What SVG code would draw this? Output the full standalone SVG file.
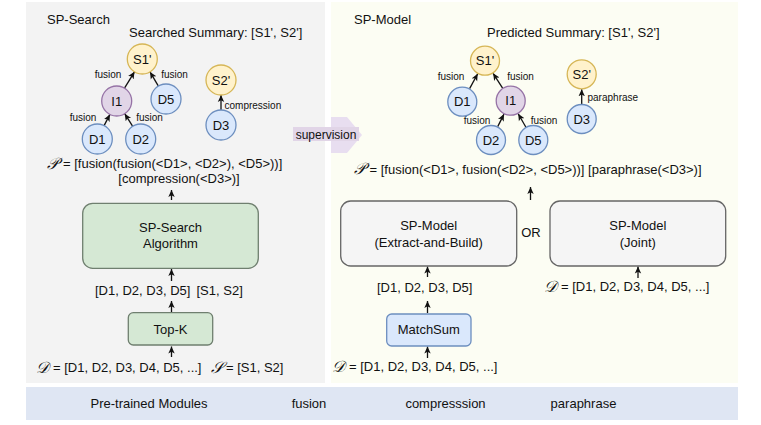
<svg xmlns="http://www.w3.org/2000/svg" width="761" height="425" viewBox="0 0 761 425">
<style>
text{font-family:"Liberation Sans",Arial,sans-serif;fill:#111;}
.t13{font-size:13px;}
.lbl{font-size:10px;}
.mid{text-anchor:middle;}
.yel{fill:#fff2cc;stroke:#d6b656;stroke-width:1.3;}
.pur{fill:#e1d5e7;stroke:#9673a6;stroke-width:1.3;}
.blu{fill:#dae8fc;stroke:#6c8ebf;stroke-width:1.3;}
.edge{stroke:#111;stroke-width:1.3;fill:none;marker-end:url(#ah);}
.scr{font-family:"DejaVu Serif","DejaVu Sans",serif;font-style:italic;font-size:16px;}
</style>
<defs>
<marker id="ah" viewBox="0 0 8 8" refX="7" refY="4" markerWidth="8" markerHeight="8" markerUnits="userSpaceOnUse" orient="auto">
<path d="M0,0.8 L7,4 L0,7.2 L1.8,4 Z" fill="#111"/>
</marker>
</defs>
<rect width="761" height="425" fill="#ffffff"/>
<!-- panels -->
<g id="panel-search"><rect x="26" y="2" width="299" height="381" fill="#f3f3f3"/></g>
<g id="panel-model"><rect x="331" y="2" width="407" height="381" fill="#fcfdf3"/></g>
<g id="bar"><rect x="26" y="387" width="712" height="33" fill="#dfe6f3"/>
<text class="t13 mid" x="149" y="408">Pre-trained Modules</text>
<text class="t13 mid" x="309" y="408">fusion</text>
<text class="t13 mid" x="445.5" y="408">compresssion</text>
<text class="t13 mid" x="583.5" y="408">paraphrase</text>
</g>
<!-- supervision arrow -->
<g id="supervision">
<path d="M331,117 L347,117 L362,135 L347,153 L331,153 Z" fill="#e8def0"/>
<rect x="293" y="127" width="66" height="14" fill="#e1d5e7"/>
<text x="326" y="138.5" class="mid" font-size="12">supervision</text>
</g>
<!-- titles -->
<text class="t13" x="47" y="24">SP-Search</text>
<text class="t13" x="129" y="37">Searched Summary: [S1', S2']</text>
<text class="t13" x="354" y="24">SP-Model</text>
<text class="t13" x="487" y="37">Predicted Summary: [S1', S2']</text>

<!-- connectors -->
<g id="connectors">
<line class="edge" x1="124.5" y1="88.2" x2="134.5" y2="71.8"/>
<line class="edge" x1="158.4" y1="86.1" x2="150" y2="71.9"/>
<line class="edge" x1="104.1" y1="125.6" x2="109.9" y2="114.4"/>
<line class="edge" x1="132.7" y1="126.3" x2="124.7" y2="113.7"/>
<line class="edge" x1="221" y1="110" x2="221" y2="95"/>
<line class="edge" x1="469.6" y1="88.6" x2="477.7" y2="73.8"/>
<line class="edge" x1="502.6" y1="88.1" x2="493.1" y2="73.3"/>
<line class="edge" x1="497.7" y1="126.6" x2="504" y2="114.1"/>
<line class="edge" x1="525.8" y1="127" x2="518.2" y2="113.7"/>
<line class="edge" x1="581.7" y1="104" x2="581.7" y2="89.3"/>
<line class="edge" x1="171.5" y1="200" x2="171.5" y2="190"/>
<line class="edge" x1="171.5" y1="281" x2="171.5" y2="269"/>
<line class="edge" x1="171.5" y1="312" x2="171.5" y2="301"/>
<line class="edge" x1="171.5" y1="357" x2="171.5" y2="346.5"/>
<line class="edge" x1="530.5" y1="200" x2="530.5" y2="187"/>
<line class="edge" x1="427.5" y1="277" x2="427.5" y2="266.5"/>
<line class="edge" x1="427.5" y1="313" x2="427.5" y2="301"/>
<line class="edge" x1="427.5" y1="358" x2="427.5" y2="346.5"/>
<line class="edge" x1="638" y1="278" x2="638" y2="266.5"/>
</g>
<!-- edge labels -->
<g id="edge-labels">
<text class="lbl mid" x="108" y="77.5">fusion</text>
<text class="lbl mid" x="174.5" y="77.5">fusion</text>
<text class="lbl mid" x="83" y="121">fusion</text>
<text class="lbl mid" x="149.5" y="121">fusion</text>
<text class="lbl" x="224.5" y="108.5">compression</text>
<text class="lbl mid" x="451" y="80">fusion</text>
<text class="lbl mid" x="520.5" y="80">fusion</text>
<text class="lbl mid" x="477" y="124">fusion</text>
<text class="lbl mid" x="544" y="124">fusion</text>
<text class="lbl" x="587.5" y="101">paraphrase</text>
</g>
<!-- left tree nodes -->
<g id="L-S1"><circle class="yel" cx="142.3" cy="59" r="15"/><text class="t13 mid" x="142.3" y="63.5">S1'</text></g>
<g id="L-I1"><circle class="pur" cx="116.7" cy="101" r="15"/><text class="t13 mid" x="116.7" y="105.5">I1</text></g>
<g id="L-D5"><circle class="blu" cx="166" cy="99" r="15"/><text class="t13 mid" x="166" y="103.5">D5</text></g>
<g id="L-D1"><circle class="blu" cx="97.3" cy="139" r="15"/><text class="t13 mid" x="97.3" y="143.5">D1</text></g>
<g id="L-D2"><circle class="blu" cx="140.7" cy="139" r="15"/><text class="t13 mid" x="140.7" y="143.5">D2</text></g>
<g id="L-S2"><circle class="yel" cx="221" cy="80" r="15"/><text class="t13 mid" x="221" y="84.5">S2'</text></g>
<g id="L-D3"><circle class="blu" cx="221" cy="125" r="15"/><text class="t13 mid" x="221" y="129.5">D3</text></g>
<!-- right tree nodes -->
<g id="R-S1"><circle class="yel" cx="485" cy="60.7" r="14.5"/><text class="t13 mid" x="485" y="65.2">S1'</text></g>
<g id="R-D1"><circle class="blu" cx="462.3" cy="101.7" r="14.5"/><text class="t13 mid" x="462.3" y="106.2">D1</text></g>
<g id="R-I1"><circle class="pur" cx="510.7" cy="100.7" r="14.5"/><text class="t13 mid" x="510.7" y="105.2">I1</text></g>
<g id="R-D2"><circle class="blu" cx="491" cy="140" r="14.5"/><text class="t13 mid" x="491" y="144.5">D2</text></g>
<g id="R-D5"><circle class="blu" cx="533.3" cy="140" r="14.5"/><text class="t13 mid" x="533.3" y="144.5">D5</text></g>
<g id="R-S2"><circle class="yel" cx="581.7" cy="74.3" r="14.5"/><text class="t13 mid" x="581.7" y="78.8">S2'</text></g>
<g id="R-D3"><circle class="blu" cx="581.7" cy="119" r="14.5"/><text class="t13 mid" x="581.7" y="123.5">D3</text></g>
<!-- formulas -->
<g id="L-formula">
<text class="scr" x="47" y="168.5">𝒫</text>
<text class="t13" x="63" y="168">= [fusion(fusion(&lt;D1&gt;, &lt;D2&gt;), &lt;D5&gt;))]</text>
<text class="t13 mid" x="179" y="183">[compression(&lt;D3&gt;)]</text>
</g>
<g id="R-formula">
<text class="scr" x="354" y="174">𝒫</text>
<text class="t13" x="369.5" y="173.5">= [fusion(&lt;D1&gt;, fusion(&lt;D2&gt;, &lt;D5&gt;))] [paraphrase(&lt;D3&gt;)]</text>
</g>
<!-- left boxes -->
<g id="sp-search-algo"><rect x="82.7" y="203.3" width="175.6" height="65" rx="10" fill="#d5e8d4" stroke="#6f7f6f" stroke-width="1.3"/>
<text class="t13 mid" x="170.5" y="232">SP-Search</text><text class="t13 mid" x="170.5" y="247.5">Algorithm</text></g>
<text class="t13" x="95" y="295">[D1, D2, D3, D5]</text>
<text class="t13" x="196.5" y="295">[S1, S2]</text>
<g id="topk"><rect x="128.3" y="312.7" width="84.4" height="32.3" rx="5" fill="#d5e8d4" stroke="#6f7f6f" stroke-width="1.3"/>
<text class="t13 mid" x="170.5" y="333.5">Top-K</text></g>
<g id="L-input">
<text class="scr" x="36" y="372.5">𝒟</text>
<text class="t13" x="53" y="372">= [D1, D2, D3, D4, D5, ...]</text>
<text class="scr" x="211" y="372.5">𝒮</text>
<text class="t13" x="226" y="372">= [S1, S2]</text>
</g>
<!-- right boxes -->
<g id="sp-model-eb"><rect x="340.7" y="201" width="176" height="65" rx="10" fill="#f5f5f5" stroke="#666666" stroke-width="1.3"/>
<text class="t13 mid" x="428.7" y="229.5">SP-Model</text><text class="t13 mid" x="428.7" y="247">(Extract-and-Build)</text></g>
<text class="t13 mid" x="531" y="237">OR</text>
<g id="sp-model-joint"><rect x="550" y="201" width="175.7" height="65" rx="10" fill="#f5f5f5" stroke="#666666" stroke-width="1.3"/>
<text class="t13 mid" x="637.8" y="229.5">SP-Model</text><text class="t13 mid" x="637.8" y="247">(Joint)</text></g>
<text class="t13" x="377" y="292">[D1, D2, D3, D5]</text>
<g id="matchsum"><rect x="386.7" y="314" width="84.3" height="32" rx="5" fill="#dae8fc" stroke="#6c8ebf" stroke-width="1.3"/>
<text class="t13 mid" x="428.8" y="334">MatchSum</text></g>
<g id="R-input1">
<text class="scr" x="332" y="371.5">𝒟</text>
<text class="t13" x="349" y="371">= [D1, D2, D3, D4, D5, ...]</text>
</g>
<g id="R-input2">
<text class="scr" x="544" y="291.5">𝒟</text>
<text class="t13" x="561" y="291">= [D1, D2, D3, D4, D5, ...]</text>
</g>
</svg>
